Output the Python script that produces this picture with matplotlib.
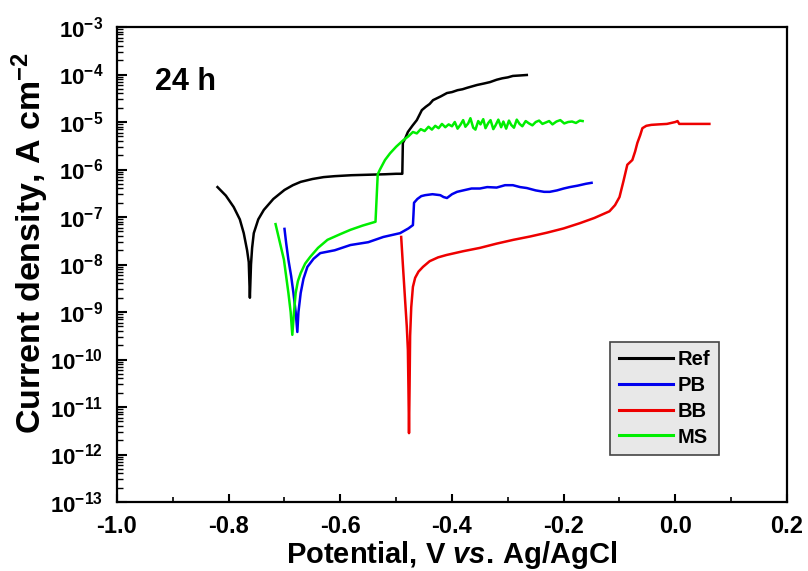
import numpy as np
import matplotlib
matplotlib.use("Agg")
import matplotlib.pyplot as plt
from matplotlib.ticker import LogLocator, MultipleLocator, NullFormatter

plt.rcParams['font.family'] = ['Liberation Sans', 'DejaVu Sans']
plt.rcParams['font.weight'] = 'bold'
plt.rcParams['mathtext.fontset'] = 'custom'
plt.rcParams['mathtext.rm'] = 'Liberation Sans:bold'
plt.rcParams['mathtext.bf'] = 'Liberation Sans:bold'
plt.rcParams['mathtext.it'] = 'Liberation Sans:bold:italic'

# ---- data: potential (V) and log10 current density (A cm^-2) ----
ref_v = [-0.820, -0.805, -0.791, -0.780, -0.773, -0.767, -0.764, -0.762, -0.760, -0.758, -0.755,
         -0.747, -0.737, -0.720, -0.700, -0.685, -0.671, -0.650, -0.630, -0.610, -0.580,
         -0.550, -0.520, -0.500, -0.490, -0.489, -0.488, -0.484, -0.479, -0.471, -0.463,
         -0.454, -0.447, -0.440, -0.434, -0.427, -0.420, -0.409, -0.400, -0.390, -0.381,
         -0.373, -0.364, -0.355, -0.343, -0.332, -0.320, -0.310, -0.300, -0.291, -0.278, -0.266]
ref_log = [-6.37, -6.55, -6.79, -7.05, -7.34, -7.70, -7.95, -8.70, -8.00, -7.65, -7.34,
           -7.05, -6.85, -6.62, -6.43, -6.33, -6.26, -6.20, -6.16, -6.14, -6.12,
           -6.11, -6.10, -6.09, -6.09, -6.09, -5.44, -5.35, -5.21, -5.08, -4.96,
           -4.75, -4.68, -4.62, -4.54, -4.50, -4.46, -4.39, -4.37, -4.33, -4.31,
           -4.28, -4.25, -4.22, -4.19, -4.16, -4.11, -4.08, -4.06, -4.03, -4.02, -4.01]

pb_v = [-0.700, -0.697, -0.693, -0.688, -0.684, -0.680, -0.677, -0.675, -0.671, -0.666,
        -0.659, -0.648, -0.636, -0.610, -0.582, -0.550, -0.523, -0.493, -0.478, -0.470,
        -0.469, -0.468, -0.462, -0.455, -0.448, -0.435, -0.421, -0.415, -0.409, -0.400,
        -0.391, -0.380, -0.365, -0.350, -0.337, -0.320, -0.305, -0.291, -0.278, -0.266,
        -0.250, -0.235, -0.225, -0.212, -0.200, -0.189, -0.175, -0.160, -0.150]
pb_log = [-7.25, -7.55, -7.90, -8.25, -8.60, -9.00, -9.42, -9.00, -8.60, -8.30,
          -8.05, -7.88, -7.76, -7.70, -7.59, -7.53, -7.42, -7.34, -7.24, -7.17,
          -6.95, -6.70, -6.62, -6.56, -6.54, -6.52, -6.54, -6.58, -6.60, -6.52,
          -6.47, -6.44, -6.40, -6.40, -6.37, -6.38, -6.33, -6.33, -6.37, -6.39,
          -6.44, -6.47, -6.47, -6.44, -6.40, -6.37, -6.34, -6.30, -6.28]

bb_v = [-0.491, -0.488, -0.484, -0.481, -0.479, -0.478, -0.477, -0.476, -0.475, -0.473,
        -0.470, -0.466, -0.460, -0.452, -0.440, -0.425, -0.410, -0.380, -0.350, -0.320,
        -0.290, -0.260, -0.230, -0.200, -0.171, -0.145, -0.118, -0.108, -0.100, -0.093,
        -0.086, -0.077, -0.072, -0.068, -0.063, -0.059, -0.052, -0.043, -0.030, -0.015,
        0.000, 0.004, 0.007, 0.020, 0.040, 0.061]
bb_log = [-7.42, -8.00, -8.75, -9.30, -9.80, -10.60, -11.55, -10.60, -9.50, -8.90,
          -8.47, -8.28, -8.15, -8.05, -7.93, -7.85, -7.80, -7.72, -7.65, -7.56,
          -7.48, -7.41, -7.33, -7.24, -7.13, -7.02, -6.88, -6.75, -6.58, -6.25,
          -5.90, -5.80, -5.62, -5.44, -5.28, -5.13, -5.08, -5.06, -5.05, -5.04,
          -5.00, -4.98, -5.04, -5.04, -5.04, -5.04]

ms_v = [-0.716, -0.709, -0.701, -0.697, -0.693, -0.689, -0.686, -0.683, -0.680, -0.676,
        -0.671, -0.663, -0.654, -0.640, -0.623, -0.600, -0.582, -0.560, -0.537, -0.535,
        -0.533, -0.529, -0.520, -0.511, -0.500, -0.487, -0.478, -0.470, -0.463, -0.456,
        -0.449, -0.442, -0.436, -0.430, -0.424, -0.418, -0.412, -0.406, -0.400, -0.395,
        -0.390, -0.385, -0.380, -0.376, -0.371, -0.367, -0.362, -0.358, -0.353, -0.349,
        -0.344, -0.340, -0.335, -0.331, -0.326, -0.322, -0.317, -0.312, -0.308, -0.303,
        -0.298, -0.294, -0.289, -0.284, -0.279, -0.274, -0.268, -0.262, -0.256, -0.250,
        -0.244, -0.238, -0.232, -0.226, -0.220, -0.213, -0.206, -0.199, -0.192, -0.185,
        -0.178, -0.171, -0.166]
ms_log = [-7.15, -7.50, -7.90, -8.25, -8.60, -9.00, -9.48, -9.00, -8.60, -8.35,
          -8.18, -7.98, -7.84, -7.65, -7.48, -7.36, -7.27, -7.18, -7.10, -6.60,
          -6.10, -6.00, -5.80, -5.66, -5.52, -5.38, -5.30, -5.21, -5.24, -5.15,
          -5.19, -5.10, -5.16, -5.08, -5.13, -5.04, -5.11, -5.05, -5.09, -5.00,
          -5.14, -5.06, -4.96, -5.10, -5.03, -4.92, -5.12, -5.16, -4.98, -5.05,
          -4.94, -5.13, -5.02, -4.96, -5.15, -5.07, -4.95, -5.11, -4.99, -5.14,
          -4.97, -5.06, -5.12, -4.95, -5.04, -5.09, -4.98, -5.03, -5.07, -5.00,
          -4.97, -5.04, -5.01, -4.98, -5.05, -4.99, -4.96, -5.03, -5.00, -4.99,
          -5.02, -4.97, -4.98]

x_ticks = [-1.0, -0.8, -0.6, -0.4, -0.2, 0.0, 0.2]
y_exponents = list(range(-13, -2))

series = [("Ref", ref_v, ref_log, "black"),
          ("PB", pb_v, pb_log, "#0000ee"),
          ("BB", bb_v, bb_log, "#ee0000"),
          ("MS", ms_v, ms_log, "#00ee00")]

fig = plt.figure(figsize=(8.08, 5.71), dpi=100)
ax = fig.add_axes([0.1448, 0.1208, 0.8292, 0.8319])

for name, v, lg, c in series:
    ax.plot(v, 10.0 ** np.array(lg), color=c, lw=1.8, label=name)

ax.set_yscale('log')
ax.set_xlim(-1.0, 0.2)
ax.set_ylim(1e-13, 1e-3)

ax.set_xticks(x_ticks)
ax.set_xticklabels([f"{t:.1f}" for t in x_ticks])
ax.xaxis.set_minor_locator(MultipleLocator(0.1))

ax.set_yticks([10.0 ** e for e in y_exponents])
ax.set_yticklabels([r"$\mathbf{10^{%d}}$" % e for e in y_exponents])
ax.yaxis.set_minor_locator(LogLocator(base=10, subs=np.arange(2, 10), numticks=20))
ax.yaxis.set_minor_formatter(NullFormatter())

ax.tick_params(axis='x', which='major', direction='in', length=5.5, width=1.5,
               labelsize=17, pad=9, top=False)
ax.tick_params(axis='x', which='minor', direction='in', length=3.5, width=1.2, top=False)
ax.tick_params(axis='y', which='major', direction='in', length=7.5, width=1.5,
               labelsize=16, pad=10, right=False)
ax.tick_params(axis='y', which='minor', direction='in', length=4.5, width=1.0, right=False)
for lab in ax.get_xticklabels() + ax.get_yticklabels():
    lab.set_fontweight('bold')

for s in ax.spines.values():
    s.set_linewidth(1.6)

ax.set_xlabel(r"Potential, V $\mathit{vs.}\,$Ag/AgCl", fontsize=21, fontweight='bold')
ax.xaxis.set_label_coords(0.5, -0.078)
ax.set_ylabel(r"Current density, A cm$^{\mathbf{-2}}$", fontsize=24.5, fontweight='bold')
ax.yaxis.set_label_coords(-0.098, 0.545)

ax.text(0.056, 0.885, "24 h", transform=ax.transAxes, fontsize=22, fontweight='bold',
        va='center', ha='left')

leg = ax.legend(loc='lower left', bbox_to_anchor=(0.736, 0.099), borderaxespad=0,
                frameon=True, fancybox=False, handlelength=2.7, handletextpad=0.25,
                labelspacing=0.34, borderpad=0.42, prop={'weight': 'bold', 'size': 14.5})
leg.get_frame().set_facecolor('#e8e8e8')
leg.get_frame().set_edgecolor('#444444')
leg.get_frame().set_linewidth(1.2)
leg.get_frame().set_alpha(1.0)
for line in leg.get_lines():
    line.set_linewidth(2.2)

fig.savefig("out.png", dpi=100)
